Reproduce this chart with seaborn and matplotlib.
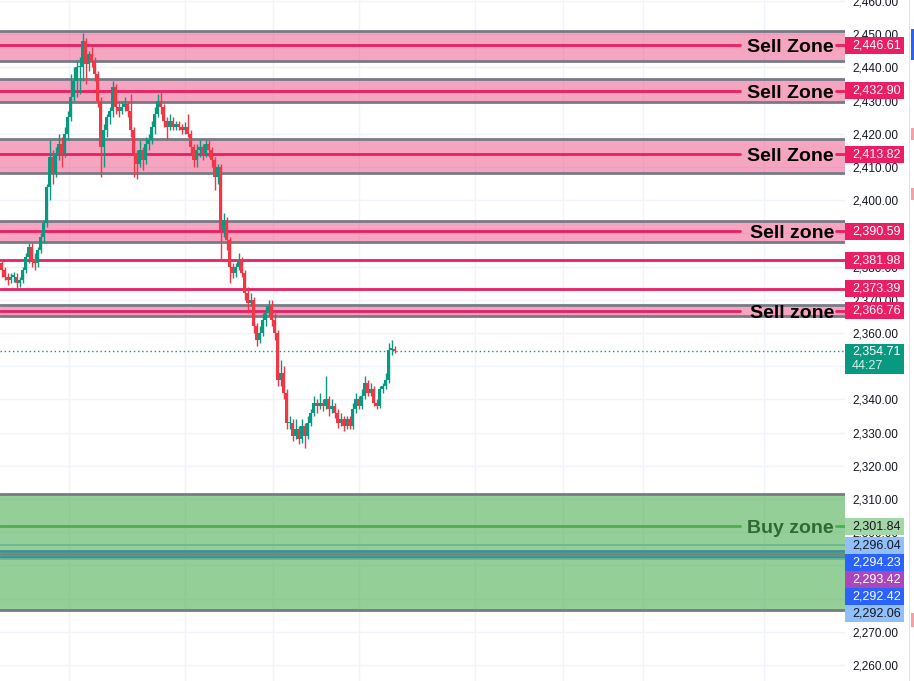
import numpy as np
import pandas as pd
import matplotlib
matplotlib.use("Agg")
import matplotlib.pyplot as plt
import matplotlib.transforms as mtransforms
from matplotlib.patches import Rectangle
import seaborn as sns

# candles (3 px each in the reference), open = previous close
first_open = 2381
closes = [2379, 2377, 2376, 2377, 2377, 2375, 2376, 2379, 2383, 2386,
          2382, 2381, 2385, 2389, 2393, 2404, 2413, 2408, 2414, 2417,
          2414, 2420, 2425, 2431, 2436, 2440, 2440, 2448, 2441, 2444,
          2442, 2438, 2430, 2416, 2421, 2425, 2427, 2434, 2428, 2427,
          2428, 2429, 2427, 2421, 2414, 2411, 2415, 2412, 2417, 2418,
          2422, 2426, 2430, 2428, 2424, 2422, 2424, 2422, 2423, 2422,
          2421, 2422, 2420, 2416, 2412, 2415, 2416, 2414, 2417, 2415,
          2412, 2407, 2410, 2391, 2394, 2388, 2380, 2378, 2380, 2382,
          2378, 2372, 2369, 2370, 2362, 2358, 2360, 2364, 2366, 2368,
          2364, 2360, 2346, 2348, 2342, 2333, 2333, 2329, 2331, 2328,
          2332, 2329, 2333, 2336, 2339, 2338, 2339, 2338, 2340, 2337,
          2338, 2336, 2333, 2334, 2332, 2334, 2332, 2337, 2340, 2338,
          2341, 2345, 2342, 2343, 2339, 2338, 2343, 2344, 2346, 2355,
          2355, 2354.71]
highs = [2382, 2380, 2378, 2378, 2378.5, 2378, 2377, 2380, 2384, 2387,
         2387, 2384, 2386, 2390, 2394, 2405, 2418, 2415, 2416, 2420,
         2419, 2422, 2427, 2438, 2440, 2442, 2443, 2450.5, 2449, 2445,
         2446, 2443, 2439, 2431, 2423, 2426, 2428, 2436, 2435, 2430,
         2430, 2431, 2430, 2432, 2422, 2415, 2418, 2416, 2419, 2420,
         2424, 2428, 2432, 2433, 2429, 2425, 2426, 2425, 2424, 2424,
         2423, 2423.5, 2426, 2421, 2417, 2417, 2418, 2417, 2418, 2418,
         2416, 2413, 2411, 2411, 2396, 2395, 2389, 2381, 2381, 2384,
         2383, 2379, 2374, 2372, 2371, 2363, 2362, 2366, 2368, 2370,
         2370, 2366, 2361, 2352, 2350, 2343, 2335, 2334, 2334, 2332,
         2334, 2333, 2335, 2337, 2341, 2340, 2342, 2340, 2347, 2341,
         2340, 2339, 2337, 2336, 2335, 2335, 2335, 2339, 2342, 2341,
         2343, 2347, 2346, 2345, 2344, 2340, 2344, 2345, 2348, 2357,
         2358, 2356]
lows = [2377, 2376, 2374.5, 2375, 2375.5, 2373.5, 2374, 2375, 2378, 2381,
        2380, 2379, 2380, 2384, 2387, 2392, 2400, 2405, 2407, 2412,
        2410, 2413, 2418, 2424, 2430, 2431, 2432, 2436, 2435, 2439,
        2440, 2436, 2428, 2407, 2410, 2419, 2423, 2425, 2426, 2425,
        2426, 2427, 2425, 2419, 2407, 2406.5, 2410, 2409, 2411, 2415,
        2417, 2420, 2425, 2426, 2422, 2418, 2421, 2421, 2421, 2421,
        2420, 2420, 2419, 2414, 2410, 2410, 2413, 2412, 2413, 2413,
        2410, 2403, 2405, 2382, 2389, 2385, 2375, 2376.5, 2377, 2379,
        2377, 2370, 2366, 2368, 2360, 2356, 2357, 2359, 2362, 2365,
        2362, 2358, 2344, 2344, 2340, 2331, 2331, 2327.5, 2328, 2326.5,
        2327, 2325.5, 2328, 2332, 2335, 2336, 2337, 2336.5, 2337, 2335,
        2336, 2334.5, 2331.5, 2332, 2330.5, 2331, 2331, 2331, 2336, 2337,
        2337, 2340, 2341, 2341, 2338, 2337, 2337.5, 2342, 2343, 2345,
        2353.5, 2354]

# zones
sell_tops = [2450.96, 2436.5, 2418.3, 2393.6, 2368.4]
sell_bottoms = [2441.9, 2429.7, 2408.3, 2387.5, 2365.2]
sell_levels = [2446.61, 2432.90, 2413.82, 2390.59, 2366.76]
sell_texts = ["Sell Zone", "Sell Zone", "Sell Zone", "Sell zone", "Sell zone"]
extra_sell_lines = [2381.98, 2373.39]

buy_top, buy_bottom, buy_level = 2311.5, 2276.6, 2301.84
buy_text = "Buy zone"
buy_lines = [2296.04, 2294.23, 2293.42, 2292.42, 2292.06]
buy_line_colors = ["#90bff9", "#2962ff", "#ab47bc", "#2962ff", "#90bff9"]
buy_line_text = ["#131722", "white", "white", "white", "#131722"]

last_price = 2354.71
countdown = "44:27"

y_ticks = list(range(2260, 2461, 10))
grid_bars = [23, 61.67, 91, 119.67, 158.33, 187.67, 214.33, 254.67]

opens = [first_open] + closes[:-1]
df = pd.DataFrame({"open": opens, "high": highs, "low": lows, "close": closes})
df["bar"] = np.arange(len(df)) + 0.5
df["up"] = df["close"] >= df["open"]

sns.set_theme(style="white")
plt.rcParams["font.family"] = ["Liberation Sans", "DejaVu Sans"]

W, H = 914, 681
fig = plt.figure(figsize=(W / 100, H / 100), dpi=100)
ax = fig.add_axes([0, 0, 845 / W, 1])
ylo, yhi = 2255.2, 2460.3
ax.set_ylim(ylo, yhi)
ax.set_xlim(0, 845 / 3)
px = (yhi - ylo) / H
blend = mtransforms.blended_transform_factory(ax.transAxes, ax.transData)

for s in ax.spines.values():
    s.set_visible(False)
ax.set_yticks(y_ticks)
ax.set_yticklabels([f"{v:,.2f}" for v in y_ticks])
ax.yaxis.tick_right()
ax.tick_params(axis="y", length=0, pad=5, labelsize=8.5, labelcolor="#131722")
ax.set_xticks(grid_bars)
ax.tick_params(axis="x", length=0, labelbottom=False)
ax.grid(True, color="#f0f3fa", lw=1)
ax.set_axisbelow(True)

pink = "#e91e63"
border = "#787b86"

# sell zones
for top, bot, lev, txt in zip(sell_tops, sell_bottoms, sell_levels, sell_texts):
    ax.axhspan(bot, top, color=pink, alpha=0.4, lw=0, zorder=1)
    ax.axhline(top, color=border, lw=2, zorder=1.5)
    ax.axhline(bot, color=border, lw=2, zorder=1.5)
    ax.axhline(lev, xmin=0, xmax=740 / 845, color=pink, lw=2, zorder=1.6)
    ax.axhline(lev, xmin=836 / 845, xmax=1, color=pink, lw=2, zorder=1.6)
    ax.text(834 / 845, lev - 2.1, txt, transform=blend, ha="right", va="baseline",
            fontsize=14, fontweight="bold", color="black", zorder=6)
for lev in extra_sell_lines:
    ax.axhline(lev, color=pink, lw=2, zorder=1.6)

# buy zone: lines under a translucent green fill
for lev, c in zip(buy_lines, buy_line_colors):
    ax.axhline(lev, color=c, lw=2 if c != "#90bff9" else 1.2, zorder=0.9)
ax.axhline(buy_level, xmin=0, xmax=740 / 845, color="#4caf50", lw=2, zorder=0.9)
ax.axhline(buy_level, xmin=836 / 845, xmax=1, color="#4caf50", lw=2, zorder=0.9)
ax.axhspan(buy_bottom, buy_top, color="#4caf50", alpha=0.6, lw=0, zorder=1)
ax.axhline(buy_top, color=border, lw=2, zorder=1.5)
ax.axhline(buy_bottom, color=border, lw=2, zorder=1.5)
ax.text(834 / 845, buy_level - 2.1, buy_text, transform=blend, ha="right", va="baseline",
        fontsize=14, fontweight="bold", color="#2f6b31", zorder=6)

# candles
cols = np.where(df["up"], "#089981", "#f23645")
ax.vlines(df["bar"], df["low"], df["high"], colors=cols, lw=1, zorder=3)
body_lo = df[["open", "close"]].min(axis=1)
body_h = (df["close"] - df["open"]).abs().clip(lower=0.35)
ax.bar(df["bar"], body_h, bottom=body_lo, width=0.72, color=cols, lw=0, zorder=3.1)

# last price line
ax.axhline(last_price, color="#089981", lw=1, ls=(0, (1, 2)), zorder=2)

# right-side price labels
box_h = 17 * px
box_w = 59 / 845


def price_box(center, text, fc, tc):
    ax.add_patch(Rectangle((1, center - box_h / 2), box_w, box_h, transform=blend,
                           fc=fc, ec="none", clip_on=False, zorder=8))
    ax.text(1 + 7 / 845, center, text, transform=blend, ha="left", va="center",
            fontsize=9, color=tc, clip_on=False, zorder=9)


for lev in sell_levels + extra_sell_lines:
    price_box(lev, f"{lev:,.2f}", pink, "white")

prev = buy_level
price_box(buy_level, f"{buy_level:,.2f}", "#a5d6a7", "#131722")
for lev, fc, tc in zip(buy_lines, buy_line_colors, buy_line_text):
    center = min(lev, prev - box_h)
    price_box(center, f"{lev:,.2f}", fc, tc)
    prev = center

ax.add_patch(Rectangle((1, last_price - 23.4 * px), box_w, 30 * px, transform=blend,
                       fc="#089981", ec="none", clip_on=False, zorder=8))
ax.text(1 + 7 / 845, last_price - 0.5 * px, f"{last_price:,.2f}", transform=blend,
        ha="left", va="center", fontsize=9, color="white", clip_on=False, zorder=9)
ax.text(1 + 7 / 845, last_price - 15 * px, countdown, transform=blend,
        ha="left", va="center", fontsize=9, color="#d8f0ea", clip_on=False, zorder=9)

# panel separator at the far right
fig.add_artist(Rectangle((909 / W, 0), 1 / W, 1, transform=fig.transFigure,
                         fc="#e0e3eb", ec="none"))
for y0, y1, c in [(29, 60, "#2962ff"), (128, 140, "#f7a0a8"), (188, 200, "#f7a0a8"),
                  (613, 627, "#f7a0a8")]:
    fig.add_artist(Rectangle((911 / W, 1 - y1 / H), 3 / W, (y1 - y0) / H,
                             transform=fig.transFigure, fc=c, ec="none"))

fig.savefig("out.png", dpi=100)
